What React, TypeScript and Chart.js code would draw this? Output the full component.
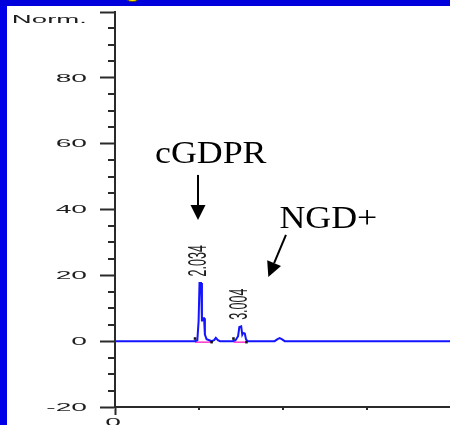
import React, { useEffect, useRef } from "react";
import { Chart, registerables } from "chart.js";

Chart.register(...registerables);

// Chromatogram trace (retention time in min, normalised signal)
const times = [0, 1.9, 1.96, 1.99, 2.012, 2.048, 2.07, 2.085, 2.12, 2.14, 2.18, 2.26, 2.3, 2.36, 2.4, 2.45, 2.5, 2.8, 2.87, 2.93, 2.96, 3.004, 3.03, 3.05, 3.09, 3.12, 3.16, 3.8, 3.87, 3.92, 3.97, 4.04, 8.0];
const signal = [0, 0, 0.3, 6, 17.7, 17.7, 6, 7, 7, 2, 0.6, 0.2, 0, 0.3, 1.0, 0.3, 0, 0, 0.3, 1.5, 4.3, 4.5, 2, 2.5, 2.3, 0.5, 0, 0, 0.6, 0.9, 0.6, 0, 0];

// Integration baselines (start, end times) and their marker levels
const baseStarts = [1.905, 2.82];
const baseEnds = [2.3, 3.13];
const baseLevel = -0.3;

// Peak labels
const peakTimes = [2.034, 3.004];
const peakHeights = [17.7, 4.5];
const peakLabels = ["2.034", "3.004"];

// Axis labels
const yTickLabels = [-20, 0, 20, 40, 60, 80];
const yTopLabel = "Norm.";
const xTickLabels = [0];

// Compound annotations
const annTexts = ["cGDPR", "NGD+"];
const annTextT = [2.28, 5.08];
const annTextY = [54.1, 34.4];
const annFromT = [1.976, 4.07];
const annFromY = [50.5, 32.3];
const annToT = [1.976, 3.65];
const annToY = [36.8, 19.5];

const DARK = "#2a2a2a";
const SANS = "'Liberation Sans', Arial, sans-serif";

const decorPlugin = {
  id: "decor",
  beforeDraw(chart: any) {
    const ctx = chart.ctx;
    ctx.save();
    ctx.fillStyle = "#ffffff";
    ctx.fillRect(0, 0, chart.width, chart.height);
    ctx.restore();
  },
  afterDraw(chart: any) {
    const ctx = chart.ctx;
    const xs = chart.scales.x;
    const ys = chart.scales.y;
    const left = chart.chartArea.left;
    const right = chart.chartArea.right;
    const bottom = chart.chartArea.bottom;
    ctx.save();

    // x axis continues to the canvas edge
    ctx.strokeStyle = DARK;
    ctx.lineWidth = 2;
    ctx.beginPath();
    ctx.moveTo(right - 1, Math.round(bottom));
    ctx.lineTo(chart.width, Math.round(bottom));
    ctx.stroke();

    // minor y ticks
    for (let v = -20; v <= 100; v += 5) {
      if (v % 20 === 0) continue;
      const y = Math.round(ys.getPixelForValue(v));
      ctx.beginPath();
      ctx.moveTo(left - 7, y);
      ctx.lineTo(left, y);
      ctx.stroke();
    }
    // minor x tick dots
    ctx.fillStyle = DARK;
    for (let t = 2; t < xs.max; t += 2) {
      const x = Math.round(xs.getPixelForValue(t));
      ctx.fillRect(x - 1, bottom + 1, 2, 2);
    }

    // y tick labels (horizontally stretched sans)
    const sx = 2.45;
    ctx.font = `11.5px ${SANS}`;
    ctx.fillStyle = "#1e1e1e";
    ctx.textAlign = "right";
    ctx.textBaseline = "middle";
    for (const v of yTickLabels) {
      const y = ys.getPixelForValue(v);
      ctx.save();
      ctx.scale(sx, 1);
      ctx.fillText(String(v), 87 / sx, y + 0.5);
      ctx.restore();
    }
    ctx.save();
    ctx.scale(2.4, 1);
    ctx.fillText(yTopLabel, 87 / 2.4, 19.5);
    ctx.restore();

    // x tick labels
    ctx.textAlign = "center";
    ctx.textBaseline = "top";
    for (const v of xTickLabels) {
      const x = xs.getPixelForValue(v);
      ctx.save();
      ctx.scale(sx, 1);
      ctx.fillText(String(v), (x - 2) / sx, 417);
      ctx.restore();
    }

    // rotated peak labels
    ctx.font = `12.5px ${SANS}`;
    ctx.fillStyle = "#1e1e1e";
    ctx.textAlign = "left";
    ctx.textBaseline = "middle";
    for (let i = 0; i < peakLabels.length; i++) {
      const x = xs.getPixelForValue(peakTimes[i]) - 1.5;
      const y = ys.getPixelForValue(peakHeights[i]) - 6.5;
      ctx.save();
      ctx.translate(x, y);
      ctx.scale(2.0, 1);
      ctx.rotate(-Math.PI / 2);
      ctx.fillText(peakLabels[i], 0, 0);
      ctx.restore();
    }

    // compound annotations
    ctx.fillStyle = "#000";
    ctx.strokeStyle = "#000";
    ctx.font = "32px 'Liberation Serif', 'Times New Roman', serif";
    ctx.textAlign = "center";
    ctx.textBaseline = "alphabetic";
    for (let i = 0; i < annTexts.length; i++) {
      const tx = xs.getPixelForValue(annTextT[i]);
      const ty = ys.getPixelForValue(annTextY[i]);
      ctx.save();
      ctx.translate(tx, ty);
      ctx.scale(1.12, 1);
      ctx.fillText(annTexts[i], 0, 0);
      ctx.restore();

      const x1 = xs.getPixelForValue(annFromT[i]);
      const y1 = ys.getPixelForValue(annFromY[i]);
      const x2 = xs.getPixelForValue(annToT[i]);
      const y2 = ys.getPixelForValue(annToY[i]);
      const ang = Math.atan2(y2 - y1, x2 - x1);
      const hl = 15;
      const hw = 7.5;
      const bx = x2 - hl * Math.cos(ang);
      const by = y2 - hl * Math.sin(ang);
      ctx.lineWidth = 2;
      ctx.beginPath();
      ctx.moveTo(x1, y1);
      ctx.lineTo(bx, by);
      ctx.stroke();
      ctx.beginPath();
      ctx.moveTo(x2, y2);
      ctx.lineTo(bx + hw * Math.sin(ang), by - hw * Math.cos(ang));
      ctx.lineTo(bx - hw * Math.sin(ang), by + hw * Math.cos(ang));
      ctx.closePath();
      ctx.fill();
    }

    // slide frame
    ctx.fillStyle = "#0000e8";
    ctx.fillRect(0, 0, 7, chart.height);
    ctx.fillStyle = "#0000dc";
    ctx.fillRect(0, 0, chart.width, 6);
    ctx.fillStyle = "#ffe800";
    ctx.strokeStyle = "#554400";
    ctx.lineWidth = 1;
    ctx.beginPath();
    ctx.ellipse(132.5, -5, 8, 6.6, 0, 0, Math.PI * 2);
    ctx.fill();
    ctx.stroke();

    ctx.restore();
  },
};

export default function App() {
  const ref = useRef<HTMLCanvasElement | null>(null);
  useEffect(() => {
    if (!ref.current) return;
    const trace = times.map((t, i) => ({ x: t, y: signal[i] }));
    const baseSets = baseStarts.map((s, i) => ({
      type: "line" as const,
      data: [
        { x: s, y: baseLevel },
        { x: baseEnds[i], y: baseLevel },
      ],
      borderColor: "#ff33cc",
      borderWidth: 1.5,
      pointRadius: 0,
      order: 2,
    }));
    const markers: { x: number; y: number }[] = [];
    baseStarts.forEach((s, i) => {
      markers.push({ x: s, y: 0.8 });
      markers.push({ x: baseEnds[i], y: baseLevel });
    });
    const chart = new Chart(ref.current, {
      type: "line",
      data: {
        datasets: [
          {
            data: markers,
            showLine: false,
            pointStyle: "rect",
            pointRadius: 1.8,
            pointBackgroundColor: "#111",
            pointBorderColor: "#111",
            pointBorderWidth: 0,
            order: 0,
          } as any,
          {
            data: trace,
            borderColor: "#1414ff",
            borderWidth: 2,
            pointRadius: 0,
            tension: 0,
            clip: false,
            order: 1,
          },
          ...baseSets,
        ],
      },
      options: {
        animation: false,
        responsive: false,
        devicePixelRatio: 1,
        events: [],
        layout: { padding: { top: 12, left: 0, right: 0, bottom: 0 } },
        plugins: { legend: { display: false }, tooltip: { enabled: false }, title: { display: false } },
        scales: {
          x: {
            type: "linear",
            min: 0,
            max: 7.88,
            border: { display: true, color: DARK, width: 2 },
            grid: {
              drawOnChartArea: false,
              drawTicks: true,
              tickLength: 8,
              tickWidth: 2,
              tickColor: (c: any) => (c.tick && c.tick.value === 0 ? DARK : "rgba(0,0,0,0)"),
            },
            ticks: { display: false, stepSize: 2 },
            afterFit: (s: any) => {
              s.height = 18;
              s.paddingLeft = 0;
              s.paddingRight = 0;
            },
          },
          y: {
            type: "linear",
            min: -20,
            max: 100,
            border: { display: true, color: DARK, width: 2 },
            grid: {
              drawOnChartArea: false,
              drawTicks: true,
              tickLength: 15,
              tickWidth: 2,
              tickColor: (c: any) => (c.tick && c.tick.value % 20 === 0 ? DARK : "rgba(0,0,0,0)"),
            },
            ticks: { display: false, stepSize: 5 },
            afterFit: (s: any) => {
              s.width = 115;
              s.paddingTop = 0;
              s.paddingBottom = 0;
            },
          },
        },
      } as any,
      plugins: [decorPlugin],
    });
    return () => chart.destroy();
  }, []);
  return (
    <div style={{ position: "fixed", left: 0, top: 0, width: 450, height: 425, background: "#fff" }}>
      <canvas ref={ref} width={450} height={425} style={{ display: "block", width: 450, height: 425 }} />
    </div>
  );
}
